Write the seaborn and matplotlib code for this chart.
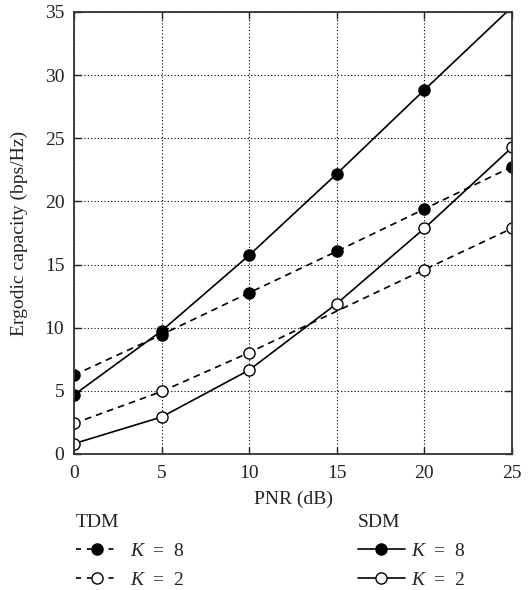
import numpy as np
import pandas as pd
import matplotlib
matplotlib.use("Agg")
import matplotlib.pyplot as plt
import seaborn as sns
from matplotlib.lines import Line2D

# ---- data ----
pnr = [0, 5, 10, 15, 20, 25]
sdm_k8 = [4.68, 9.75, 15.74, 22.19, 28.83, 35.4]
sdm_k2 = [0.82, 2.93, 6.65, 11.91, 17.87, 24.28]
tdm_k8 = [6.25, 9.45, 12.77, 16.05, 19.40, 22.75]
pnr_tdm_k2 = [0, 5, 10, 20, 25]
tdm_k2 = [2.42, 4.95, 8.03, 14.60, 17.87]
x_ticks = [0, 5, 10, 15, 20, 25]
y_ticks = [0, 5, 10, 15, 20, 25, 30, 35]
legend_labels = ["$K$\u2002=\u20028", "$K$\u2002=\u20022"]
legend_titles = ["TDM", "SDM"]

sns.set_style("ticks")
plt.rcParams["font.family"] = ["Liberation Serif", "DejaVu Serif"]
plt.rcParams["mathtext.fontset"] = "custom"
plt.rcParams["mathtext.rm"] = "Liberation Serif"
plt.rcParams["mathtext.it"] = "Liberation Serif:italic"

fig = plt.figure(figsize=(5.3, 5.9), dpi=100)
ax = fig.add_axes([74 / 530, 136 / 590, 438 / 530, 442 / 590])

ymax = 35
def mk(vals):
    return [i for i, v in enumerate(vals) if v <= ymax]

common = dict(color="black", marker="o", markersize=8, markeredgewidth=1.0,
              markeredgecolor="black", linewidth=1.2, legend=False, ax=ax)

series = [
    (pnr, tdm_k8, "black", (0, (4, 3))),
    (pnr_tdm_k2, tdm_k2, "white", (0, (4, 3))),
    (pnr, sdm_k8, "black", "-"),
    (pnr, sdm_k2, "white", "-"),
]
for xs, ys, fc, ls in series:
    df = pd.DataFrame({"x": xs, "y": ys})
    sns.lineplot(data=df, x="x", y="y", markerfacecolor=fc, linestyle=ls,
                 markevery=mk(ys), **common)

ax.set_xlim(0, 25)
ax.set_ylim(0, ymax)
ax.set_xticks(x_ticks)
ax.set_yticks(y_ticks)
ax.grid(True, color="black", linestyle=(0, (1, 2)), linewidth=0.8)
ax.tick_params(direction="in", length=5, width=1, top=True, right=True,
               labelsize=14, colors="#222222")
ax.tick_params(axis="y", pad=7)
ax.tick_params(axis="x", pad=8)
for s in ax.spines.values():
    s.set_color("#333333")
    s.set_linewidth(1.3)
ax.set_xlabel("PNR (dB)", fontsize=14, labelpad=6, color="#222222")
ax.set_ylabel("Ergodic capacity (bps/Hz)", fontsize=14, labelpad=12, color="#222222")

def mkhandle(fc, ls):
    return Line2D([], [], color="black", marker="o", markersize=8,
                  markerfacecolor=fc, markeredgecolor="black", linestyle=ls,
                  linewidth=1.2)

leg_kw = dict(loc="upper left", frameon=False, fontsize=14, title_fontsize=14,
              labelspacing=0.58, alignment="left", borderaxespad=0, borderpad=0)
leg1 = fig.legend([mkhandle("black", (0, (3, 3.5))), mkhandle("white", (0, (3, 3.5)))],
                  legend_labels, title=legend_titles[0],
                  bbox_to_anchor=(76 / 530, 1 - 514 / 590),
                  handlelength=2.2, handletextpad=0.6, **leg_kw)
leg2 = fig.legend([mkhandle("black", "-"), mkhandle("white", "-")],
                  legend_labels, title=legend_titles[1],
                  bbox_to_anchor=(358 / 530, 1 - 514 / 590),
                  handlelength=2.4, handletextpad=0.35, **leg_kw)
for leg in (leg1, leg2):
    for t in leg.get_texts():
        t.set_color("#222222")
    leg.get_title().set_color("#222222")

fig.savefig("out.png", dpi=100)
